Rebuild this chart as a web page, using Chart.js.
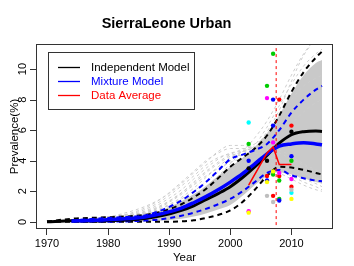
<!DOCTYPE html>
<html>
<head>
<meta charset="utf-8">
<script src="https://cdn.jsdelivr.net/npm/chart.js@4"></script>
<style>
  body { margin: 0; background: #fff; }
  canvas { display: block; }
</style>
</head>
<body>
<canvas id="chart" width="354" height="266"></canvas>
<script>
// years on which the model curves were read
const yrs = [1970, 1974, 1978, 1982, 1986, 1989, 1992, 1994, 1996, 1998, 2000, 2002, 2004, 2006, 2008, 2010, 2012, 2014, 2015];

// Independent model: median + 95% band
const indMed = [0.0, 0.07, 0.05, 0.1, 0.22, 0.42, 0.75, 1.05, 1.45, 1.85, 2.3, 2.9, 3.6, 4.35, 5.15, 5.7, 5.9, 5.95, 5.92];
const indLo  = [0.0, 0.0, 0.0, 0.0, 0.0, 0.0, 0.03, 0.1, 0.25, 0.45, 0.75, 1.3, 2.1, 3.0, 3.6, 3.55, 3.4, 3.2, 3.1];
const indHi  = [0.02, 0.2, 0.27, 0.33, 0.45, 0.7, 1.15, 1.6, 2.15, 2.85, 3.6, 4.2, 4.8, 5.65, 6.95, 8.5, 9.8, 10.75, 11.15];

// Mixture model: median + 95% band (starts 1974)
const mixMed = [null, 0.05, 0.1, 0.18, 0.32, 0.55, 0.9, 1.25, 1.65, 2.1, 2.6, 3.15, 3.8, 4.45, 4.95, 5.1, 5.18, 5.1, 5.04];
const mixLo  = [null, 0.0, 0.0, 0.02, 0.08, 0.18, 0.4, 0.6, 0.85, 1.15, 1.5, 2.0, 2.6, 3.2, 3.4, 3.05, 2.85, 2.7, 2.65];
const mixHi  = [null, 0.1, 0.2, 0.3, 0.42, 0.8, 1.4, 1.95, 2.6, 3.35, 4.1, 4.4, 4.7, 5.1, 6.0, 7.15, 8.0, 8.65, 8.9];

// dense cloud of simulated curves (edges) and a few stray simulations
const cloudLo = [0.0, 0.0, 0.0, 0.0, 0.02, 0.08, 0.2, 0.35, 0.55, 0.8, 1.1, 1.7, 2.4, 3.0, 3.25, 3.1, 2.85, 2.6, 2.5];
const cloudHi = [0.03, 0.12, 0.22, 0.32, 0.5, 0.8, 1.35, 1.8, 2.35, 3.0, 3.6, 4.2, 4.9, 5.8, 7.0, 8.4, 9.6, 10.4, 10.6];
const simRuns = [
  [0, 0.05, 0.15, 0.4, 0.9, 1.6, 2.6, 3.3, 4.0, 4.5, 4.8, 4.8, 4.6, 4.3, 3.9, 3.5, 3.1, 2.8, 2.6],
  [0, 0.05, 0.1, 0.3, 0.7, 1.3, 2.1, 2.8, 3.5, 4.1, 4.5, 4.6, 4.5, 4.3, 4.0, 3.6, 3.2, 2.9, 2.7],
  [0, 0.03, 0.08, 0.2, 0.5, 0.95, 1.6, 2.2, 2.9, 3.6, 4.2, 4.6, 4.8, 4.7, 4.5, 4.1, 3.7, 3.3, 3.1],
  [0, 0.04, 0.12, 0.35, 0.8, 1.45, 2.35, 3.0, 3.7, 4.2, 4.4, 4.3, 4.0, 3.6, 3.2, 2.8, 2.4, 2.1, 2.0],
  [0, 0.05, 0.2, 0.5, 1.0, 1.6, 2.5, 3.2, 3.9, 4.6, 5.0, 5.0, 4.8, 4.5, 4.1, 3.6, 3.2, 2.8, 2.6],
  [0, 0.04, 0.14, 0.3, 0.65, 1.15, 1.9, 2.6, 3.3, 3.9, 4.4, 4.75, 4.9, 4.9, 4.7, 4.3, 3.8, 3.4, 3.2],
  [0, 0.03, 0.1, 0.25, 0.55, 1.05, 1.8, 2.4, 3.0, 3.5, 3.9, 4.1, 4.1, 3.9, 3.6, 3.2, 2.8, 2.5, 2.3],
  [0, 0.1, 0.25, 0.4, 0.55, 0.8, 1.3, 1.7, 2.3, 3.0, 3.8, 4.6, 5.5, 6.6, 8.0, 9.6, 11.0, 12.0, 12.3],
  [0, 0.08, 0.2, 0.3, 0.45, 0.7, 1.1, 1.5, 2.0, 2.6, 3.3, 4.1, 5.0, 6.2, 7.6, 9.0, 10.2, 11.0, 11.3],
  [0, 0.06, 0.15, 0.25, 0.4, 0.65, 1.05, 1.4, 1.9, 2.5, 3.2, 3.9, 4.8, 5.9, 7.3, 9.2, 10.9, 11.9, 12.2],
  [0, 0.05, 0.15, 0.3, 0.5, 0.9, 1.5, 2.0, 2.6, 3.3, 4.0, 4.6, 5.1, 5.6, 6.8, 8.0, 8.9, 9.4, 9.6],
  [0, 0.02, 0.05, 0.1, 0.25, 0.5, 0.9, 1.3, 1.8, 2.3, 2.7, 3.0, 3.2, 3.2, 3.3, 3.0, 2.6, 2.3, 2.1],
  [0, 0.06, 0.2, 0.45, 0.6, 1.1, 1.9, 2.5, 3.2, 3.8, 4.3, 4.6, 4.9, 5.1, 5.6, 6.4, 7.2, 7.8, 8.0]
];

// data average (red line)
const avgYears = [2003, 2006, 2007, 2008, 2010];
const avgPrev  = [2.4, 4.5, 4.9, 3.75, 3.75];

// survey observations, one list per site (year, prevalence)
const site1 = [[2003, 3.5], [2006, 4.0], [2010, 5.9]];
const site2 = [[2006, 3.0], [2007, 1.7], [2008, 8.0], [2008, 3.0], [2010, 6.3], [2010, 2.3]];
const site3 = [[2003, 5.1], [2006, 8.9], [2007, 11.0], [2007, 3.1], [2008, 2.7], [2008, 1.5], [2010, 4.0]];
const site4 = [[2003, 4.0], [2006, 2.7], [2007, 8.0], [2007, 6.3], [2008, 1.4], [2010, 4.3]];
const site5 = [[2003, 6.5], [2010, 1.9]];
const site6 = [[2003, 0.7], [2006, 8.1], [2007, 5.2], [2008, 3.2], [2010, 2.8]];
const site7 = [[2003, 0.6], [2006, 2.6], [2007, 3.3], [2010, 1.5]];
const site8 = [[2006, 1.7], [2007, 1.3], [2010, 2.1]];

const refYear = 2007.5;
const xTicks = [1970, 1980, 1990, 2000, 2010];
const yTicks = [0, 2, 4, 6, 8, 10];

const FONT = "'Liberation Sans', Arial, Helvetica, sans-serif";
const siteColors = ['#000000', '#FF0000', '#00CD00', '#0000FF', '#00FFFF', '#FF00FF', '#FFFF00', '#BEBEBE'];

function pts(xs, ys) {
  return xs.map((x, i) => ({ x: x, y: ys[i] })).filter(p => p.y !== null);
}

function curve(data, color, width, dash) {
  return {
    data: data,
    borderColor: color,
    borderWidth: width,
    borderDash: dash || [],
    pointRadius: 0,
    fill: false,
    cubicInterpolationMode: 'monotone'
  };
}

// bottom-most first, reversed at the end so that later ones are on top
const layers = [];
layers.push(curve(pts(yrs, cloudLo), 'rgba(0,0,0,0)', 0));
layers.push(Object.assign(curve(pts(yrs, cloudHi), 'rgba(0,0,0,0)', 0), {
  fill: { target: 0 }, backgroundColor: '#C9C9C9'
}));
simRuns.forEach(run => layers.push(curve(pts(yrs, run), '#CDCDCD', 1, [3, 3])));
layers.push(curve(pts(yrs, indLo), '#000000', 2, [5, 4]));
layers.push(curve(pts(yrs, indHi), '#000000', 2, [5, 4]));
layers.push(curve(pts(yrs, mixLo), '#0000FF', 2, [5, 4]));
layers.push(curve(pts(yrs, mixHi), '#0000FF', 2, [5, 4]));
layers.push(curve(pts(yrs, indMed), '#000000', 3));
layers.push(curve(pts(yrs, mixMed), '#0000FF', 3.5));
[site1, site2, site3, site4, site5, site6, site7, site8].forEach((site, i) => {
  layers.push({
    data: site.map(p => ({ x: p[0], y: p[1] })),
    showLine: false,
    pointRadius: 2.2,
    pointBorderWidth: 0,
    pointBackgroundColor: siteColors[i],
    borderColor: siteColors[i]
  });
});
layers.push({
  data: pts(avgYears, avgPrev),
  borderColor: '#FF0000',
  borderWidth: 1.5,
  pointRadius: 0,
  tension: 0
});
layers.push({
  data: [{ x: refYear, y: -1 }, { x: refYear, y: 13 }],
  borderColor: '#FF0000',
  borderWidth: 1,
  borderDash: [3, 3],
  pointRadius: 0
});
// first dataset draws on top in Chart.js
const datasets = layers.reverse();
const nLayers = datasets.length;
// fix fill target after reversing: cloudHi must fill to cloudLo
datasets.forEach(ds => { if (ds.fill && ds.fill.target === 0) ds.fill = { target: nLayers - 1 }; });

// R style extras: frame, y ticks with rotated labels, legend box
const rStyle = {
  id: 'rStyle',
  afterDraw(chart) {
    const ctx = chart.ctx;
    const a = chart.chartArea;
    const ys = chart.scales.y;
    ctx.save();
    ctx.strokeStyle = '#333';
    ctx.lineWidth = 1;
    ctx.strokeRect(a.left + 0.5, a.top + 0.5, a.right - a.left - 1, a.bottom - a.top - 1);

    ctx.fillStyle = '#000';
    ctx.font = '11px ' + FONT;
    ctx.textAlign = 'center';
    ctx.textBaseline = 'middle';
    yTicks.forEach(v => {
      const py = Math.round(ys.getPixelForValue(v)) + 0.5;
      ctx.beginPath();
      ctx.moveTo(a.left - 6, py);
      ctx.lineTo(a.left, py);
      ctx.stroke();
      ctx.save();
      ctx.translate(23, ys.getPixelForValue(v));
      ctx.rotate(-Math.PI / 2);
      ctx.fillText(String(v), 0, 0);
      ctx.restore();
    });

    // legend
    ctx.fillStyle = '#fff';
    ctx.fillRect(48.5, 52.5, 146, 57);
    ctx.strokeRect(48.5, 52.5, 146, 57);
    const items = [['Independent Model', '#000000'], ['Mixture Model', '#0000FF'], ['Data Average', '#FF0000']];
    ctx.font = '11.5px ' + FONT;
    ctx.textAlign = 'left';
    ctx.lineWidth = 1.3;
    items.forEach((it, i) => {
      const y = 67 + i * 14;
      ctx.strokeStyle = it[1];
      ctx.beginPath();
      ctx.moveTo(58, y + 0.5);
      ctx.lineTo(80, y + 0.5);
      ctx.stroke();
      ctx.fillStyle = it[1];
      ctx.fillText(it[0], 91, y + 1);
    });
    ctx.restore();
  }
};

const chart = new Chart(document.getElementById('chart').getContext('2d'), {
  type: 'line',
  data: { datasets: datasets },
  options: {
    responsive: false,
    animation: false,
    devicePixelRatio: 1,
    layout: { padding: { left: 0, right: 21, top: 0, bottom: 0 } },
    plugins: {
      legend: { display: false },
      tooltip: { enabled: false },
      title: {
        display: true,
        text: 'SierraLeone Urban',
        color: '#000',
        font: { family: FONT, size: 14.5, weight: 'bold' },
        padding: { top: 14.8, bottom: 11.8 }
      }
    },
    scales: {
      x: {
        type: 'linear',
        min: 1968.2,
        max: 2016.8,
        afterBuildTicks: s => { s.ticks = xTicks.map(v => ({ value: v })); },
        afterFit: s => { s.height = 37; },
        ticks: {
          color: '#000',
          font: { family: FONT, size: 11 },
          padding: 2,
          maxRotation: 0,
          autoSkip: false,
          callback: v => String(v)
        },
        grid: { drawOnChartArea: false, drawTicks: true, tickLength: 6, color: '#333' },
        border: { display: false },
        title: {
          display: true,
          text: 'Year',
          color: '#000',
          font: { family: FONT, size: 11.5 },
          padding: { top: 0, bottom: 1 }
        }
      },
      y: {
        type: 'linear',
        min: -0.47,
        max: 11.64,
        afterBuildTicks: s => { s.ticks = yTicks.map(v => ({ value: v })); },
        afterFit: s => { s.width = 36; },
        ticks: { display: false },
        grid: { display: false },
        border: { display: false },
        title: {
          display: true,
          text: 'Prevalence(%)',
          color: '#000',
          font: { family: FONT, size: 11.5 },
          padding: { top: 8, bottom: 0 }
        }
      }
    }
  },
  plugins: [rStyle]
});
</script>
</body>
</html>
